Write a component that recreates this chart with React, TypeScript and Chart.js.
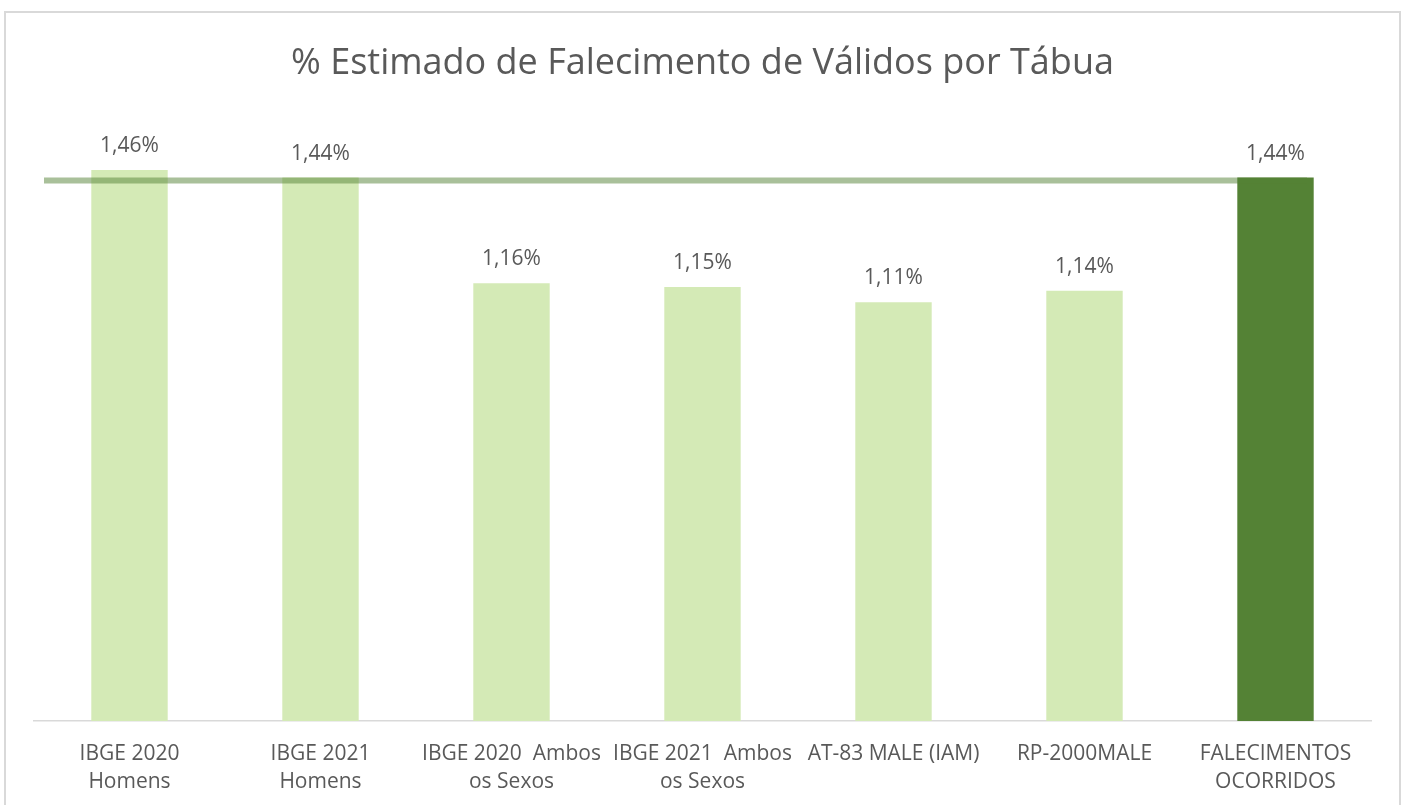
import React, { useEffect, useRef } from "react";
import { Chart, registerables } from "chart.js";

Chart.register(...registerables);

const categories: (string | string[])[] = [
  ["IBGE 2020", "Homens"],
  ["IBGE 2021", "Homens"],
  ["IBGE 2020  Ambos", "os Sexos"],
  ["IBGE 2021  Ambos", "os Sexos"],
  "AT-83 MALE (IAM)",
  "RP-2000MALE",
  ["FALECIMENTOS", "OCORRIDOS"],
];
const values = [1.46, 1.44, 1.16, 1.15, 1.11, 1.14, 1.44];
const valueLabels = ["1,46%", "1,44%", "1,16%", "1,15%", "1,11%", "1,14%", "1,44%"];
const referenceLine = 1.44;
const titleText = "% Estimado de Falecimento de Válidos por Tábua";

const LIGHT = "#D4EAB6";
const DARK = "#548235";
const TEXT = "#595959";
const FONT = "'Open Sans', sans-serif";

export default function App() {
  const ref = useRef<HTMLCanvasElement>(null);
  useEffect(() => {
    if (!ref.current) return;
    const labelPlugin = {
      id: "valueLabels",
      afterDatasetsDraw(chart: any) {
        const ctx = chart.ctx;
        const meta = chart.getDatasetMeta(0);
        ctx.save();
        ctx.font = `21px ${FONT}`;
        ctx.fillStyle = TEXT;
        ctx.textAlign = "center";
        ctx.textBaseline = "alphabetic";
        meta.data.forEach((bar: any, i: number) => {
          ctx.fillText(valueLabels[i], bar.x, bar.y - 18);
        });
        ctx.restore();
      },
    };
    const refLinePlugin = {
      id: "refLine",
      afterDatasetsDraw(chart: any) {
        const ctx = chart.ctx;
        const y = chart.scales.y.getPixelForValue(referenceLine) + 3;
        const area = chart.chartArea;
        ctx.save();
        ctx.strokeStyle = "rgba(84,130,53,0.5)";
        ctx.lineWidth = 6;
        ctx.beginPath();
        ctx.moveTo(area.left + 10, y);
        ctx.lineTo(area.right - 64, y);
        ctx.stroke();
        ctx.restore();
      },
    };
    const chart = new Chart(ref.current, {
      type: "bar",
      data: {
        labels: categories,
        datasets: [
          {
            data: values,
            backgroundColor: values.map((_, i) => (i === values.length - 1 ? DARK : LIGHT)),
            barPercentage: 0.4,
            categoryPercentage: 1,
          },
        ],
      },
      options: {
        animation: false,
        responsive: false,
        maintainAspectRatio: false,
        layout: { padding: { left: 34, right: 34, top: 20, bottom: 23 } },
        plugins: {
          legend: { display: false },
          tooltip: { enabled: false },
          title: {
            display: true,
            text: titleText,
            color: TEXT,
            font: { family: FONT, size: 36, weight: "normal", lineHeight: 1.2 },
            padding: { top: 22, bottom: 32 },
          },
        },
        scales: {
          x: {
            grid: { display: false },
            border: { display: true, color: "#D9D9D9", width: 1.5 },
            ticks: {
              color: TEXT,
              font: { family: FONT, size: 21, lineHeight: 1.38 },
              padding: 10,
              maxRotation: 0,
              autoSkip: false,
            },
          },
          y: {
            display: false,
            min: 0,
            max: 1.6,
          },
        },
      },
      plugins: [refLinePlugin, labelPlugin],
    });
    return () => chart.destroy();
  }, []);
  return (
    <div style={{ position: "fixed", left: 0, top: 0, width: 1405, height: 805, background: "#fff", overflow: "hidden" }}>
      <div
        style={{
          position: "absolute",
          left: 4,
          top: 11,
          width: 1397,
          height: 900,
          boxSizing: "border-box",
          border: "2px solid #D9D9D9",
        }}
      />
      <canvas ref={ref} width={1405} height={830} style={{ position: "absolute", left: 0, top: 0, width: 1405, height: 830 }} />
    </div>
  );
}
